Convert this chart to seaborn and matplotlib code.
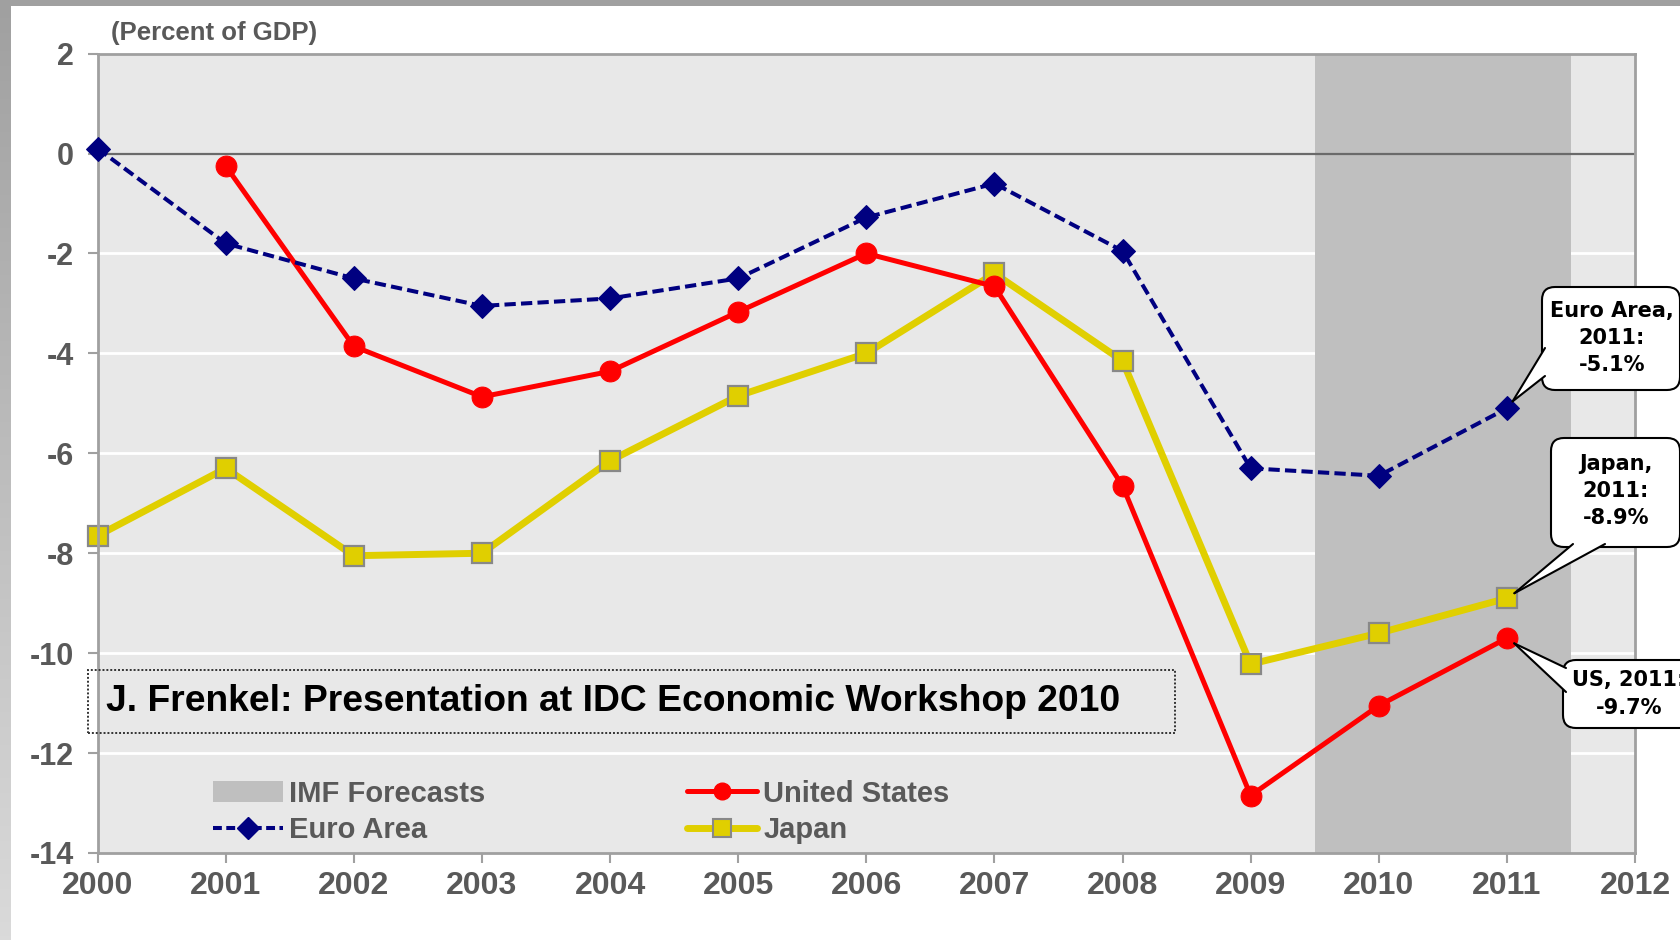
import numpy as np
import pandas as pd
import matplotlib
matplotlib.use("Agg")
import matplotlib.pyplot as plt
from matplotlib.patches import Patch, Rectangle, FancyBboxPatch, Polygon
from matplotlib.lines import Line2D
from matplotlib.transforms import IdentityTransform
import seaborn as sns

# General government balance, percent of GDP
years = list(range(2000, 2012))
euro_area = [0.1, -1.8, -2.5, -3.05, -2.9, -2.5, -1.28, -0.6, -1.95, -6.3, -6.45, -5.1]
us_years = list(range(2001, 2012))
united_states = [-0.25, -3.86, -4.87, -4.36, -3.17, -2.0, -2.66, -6.65, -12.85, -11.05, -9.7]
japan = [-7.65, -6.3, -8.05, -8.0, -6.15, -4.85, -4.0, -2.4, -4.15, -10.22, -9.6, -8.9]

forecast_span = (2009.5, 2011.5)
x_ticks = list(range(2000, 2013))
y_ticks = list(range(-14, 3, 2))

callout_labels = ["Euro Area,\n2011:\n-5.1%", "Japan,\n2011:\n-8.9%", "US, 2011:\n-9.7%"]
callout_points = [(2011, euro_area[-1]), (2011, japan[-1]), (2011, united_states[-1])]

sns.set_theme(style="white")
plt.rcParams["font.family"] = ["Liberation Sans", "DejaVu Sans"]

W, H = 1681, 940
GRAY_TXT = "#595959"
EURO_C, US_C, JP_C = "#000080", "#ff0000", "#e0cf00"
EURO_DASH = (0, (2.8, 1.3))

fig = plt.figure(figsize=(W / 100, H / 100), dpi=100)
fig.patch.set_facecolor("white")
ax = fig.add_axes([97.6 / W, 1 - 853 / H, (1635 - 97.6) / W, (853 - 53.6) / H])
ax.set_facecolor("#e8e8e8")

# slide frame strips along the top and left edges
top = fig.add_axes([0, 1 - 6 / H, 1, 6 / H])
top.set_facecolor("#a0a0a0")
top.set_xticks([]); top.set_yticks([])
for s in top.spines.values():
    s.set_visible(False)
left = fig.add_axes([0, 0, 11 / W, 1])
grad = np.linspace(0, 1, 256).reshape(-1, 1)
left.imshow(grad, aspect="auto", cmap=matplotlib.colors.LinearSegmentedColormap.from_list(
    "frame", ["#a0a0a0", "#dadada"]), extent=[0, 1, 0, 1], origin="upper")
left.set_axis_off()

ax.set_xlim(2000, 2012)
ax.set_ylim(-14, 2)

ax.axvspan(*forecast_span, color="#bfbfbf", lw=0, zorder=0.5)
for yv in y_ticks:
    if yv not in (0, 2, -14):
        ax.axhline(yv, color="white", lw=2, zorder=0.4)
ax.axhline(0, color="#6a6a6a", lw=1.6, zorder=1)

sns.lineplot(x=years, y=japan, ax=ax, color=JP_C, lw=5.0, marker="s", markersize=15,
             markeredgecolor="#888888", markeredgewidth=1.6, zorder=2, clip_on=False)
sns.lineplot(x=us_years, y=united_states, ax=ax, color=US_C, lw=3.6, marker="o",
             markersize=15, markeredgecolor=US_C, zorder=3, clip_on=False)
sns.lineplot(x=years, y=euro_area, ax=ax, color=EURO_C, lw=2.9, linestyle=EURO_DASH,
             marker="D", markersize=12, markeredgecolor=EURO_C, zorder=4, clip_on=False)

ax.set_xticks(x_ticks)
ax.set_xticklabels([str(v) for v in x_ticks], fontweight="bold", fontsize=23, color=GRAY_TXT)
ax.set_yticks(y_ticks)
ax.set_yticklabels([str(v) for v in y_ticks], fontweight="bold", fontsize=22, color=GRAY_TXT)
ax.tick_params(axis="both", which="major", direction="out", length=7, width=1.5,
               color="#a0a0a0", left=True, bottom=True)
ax.tick_params(axis="y", pad=10)
ax.tick_params(axis="x", pad=6)
ax.set_xlabel(""); ax.set_ylabel("")
for s in ax.spines.values():
    s.set_visible(True)
    s.set_color("#a0a0a0")
    s.set_linewidth(2)

fig.text(111 / W, 1 - 33 / H, "(Percent of GDP)", fontsize=18.5, fontweight="bold",
         color=GRAY_TXT, va="center", ha="left")

# presentation credit box
ax.add_patch(Rectangle((-0.0065, 0.150), 0.707, 0.079, transform=ax.transAxes,
                       facecolor="none", edgecolor="#333333", lw=1.4, linestyle=(0, (1, 1)),
                       clip_on=False, zorder=6))
ax.text(0.0055, 0.189, "J. Frenkel: Presentation at IDC Economic Workshop 2010",
        transform=ax.transAxes, fontsize=26.8, fontweight="bold",
        color="black", va="center", ha="left", zorder=7)

# legend
h_euro = Line2D([], [], color=EURO_C, lw=2.9, linestyle=(0, (2.2, 1.1)), marker="D",
                markersize=11)
h_us = Line2D([], [], color=US_C, lw=3.6, marker="o", markersize=12)
h_jp = Line2D([], [], color=JP_C, lw=5.0, marker="s", markersize=13,
              markeredgecolor="#888888", markeredgewidth=1.5)
h_span = Patch(facecolor="#bfbfbf", edgecolor="none")
leg = ax.legend([h_span, h_euro, h_us, h_jp],
                ["IMF Forecasts", "Euro Area", "United States", "Japan"],
                ncol=2, loc="lower left", bbox_to_anchor=(0.058, -0.022), frameon=False,
                prop={"weight": "bold", "size": 21},
                handlelength=2.4, handletextpad=0.22, columnspacing=6.9, labelspacing=0.3)
for t in leg.get_texts():
    t.set_color(GRAY_TXT)

# rounded value callouts for the 2011 forecasts (pixel layout, y measured from top)
boxes = [(1542, 287, 1680, 390), (1551, 438, 1680, 547), (1563, 660, 1696, 728)]
bases = [[(1545, 348), (1545, 376)], [(1573, 544), (1605, 544)], [(1566, 668), (1566, 692)]]
centers = [(1612, 338), (1616, 491), (1629, 694)]
ident = IdentityTransform()
for label, pt, box, base, ctr in zip(callout_labels, callout_points, boxes, bases, centers):
    x0, y0, x1, y1 = box
    fig.patches.append(FancyBboxPatch((x0, H - y1), x1 - x0, y1 - y0,
                                      boxstyle="round,pad=0,rounding_size=13",
                                      fc="white", ec="black", lw=1.5, transform=ident,
                                      zorder=8, figure=fig))
    px, py = ax.transData.transform(pt)
    bx = np.mean([b[0] for b in base]); by = H - np.mean([b[1] for b in base])
    v = np.array([bx - px, by - py]); v /= np.hypot(*v)
    tip = (px + 9 * v[0], py + 9 * v[1])
    b0 = (base[0][0], H - base[0][1]); b1 = (base[1][0], H - base[1][1])
    fig.patches.append(Polygon([b0, tip, b1], closed=True, fc="white", ec="none",
                               transform=ident, zorder=9, figure=fig))
    for b in (b0, b1):
        fig.lines.append(Line2D([b[0], tip[0]], [b[1], tip[1]], color="black", lw=1.5,
                                transform=ident, zorder=10, figure=fig))
    fig.text(ctr[0] / W, 1 - ctr[1] / H, label, ha="center", va="center",
             multialignment="center", fontsize=15, fontweight="bold",
             family=["DejaVu Sans"], color="black", linespacing=1.45, zorder=11)

fig.savefig("out.png", dpi=100)
